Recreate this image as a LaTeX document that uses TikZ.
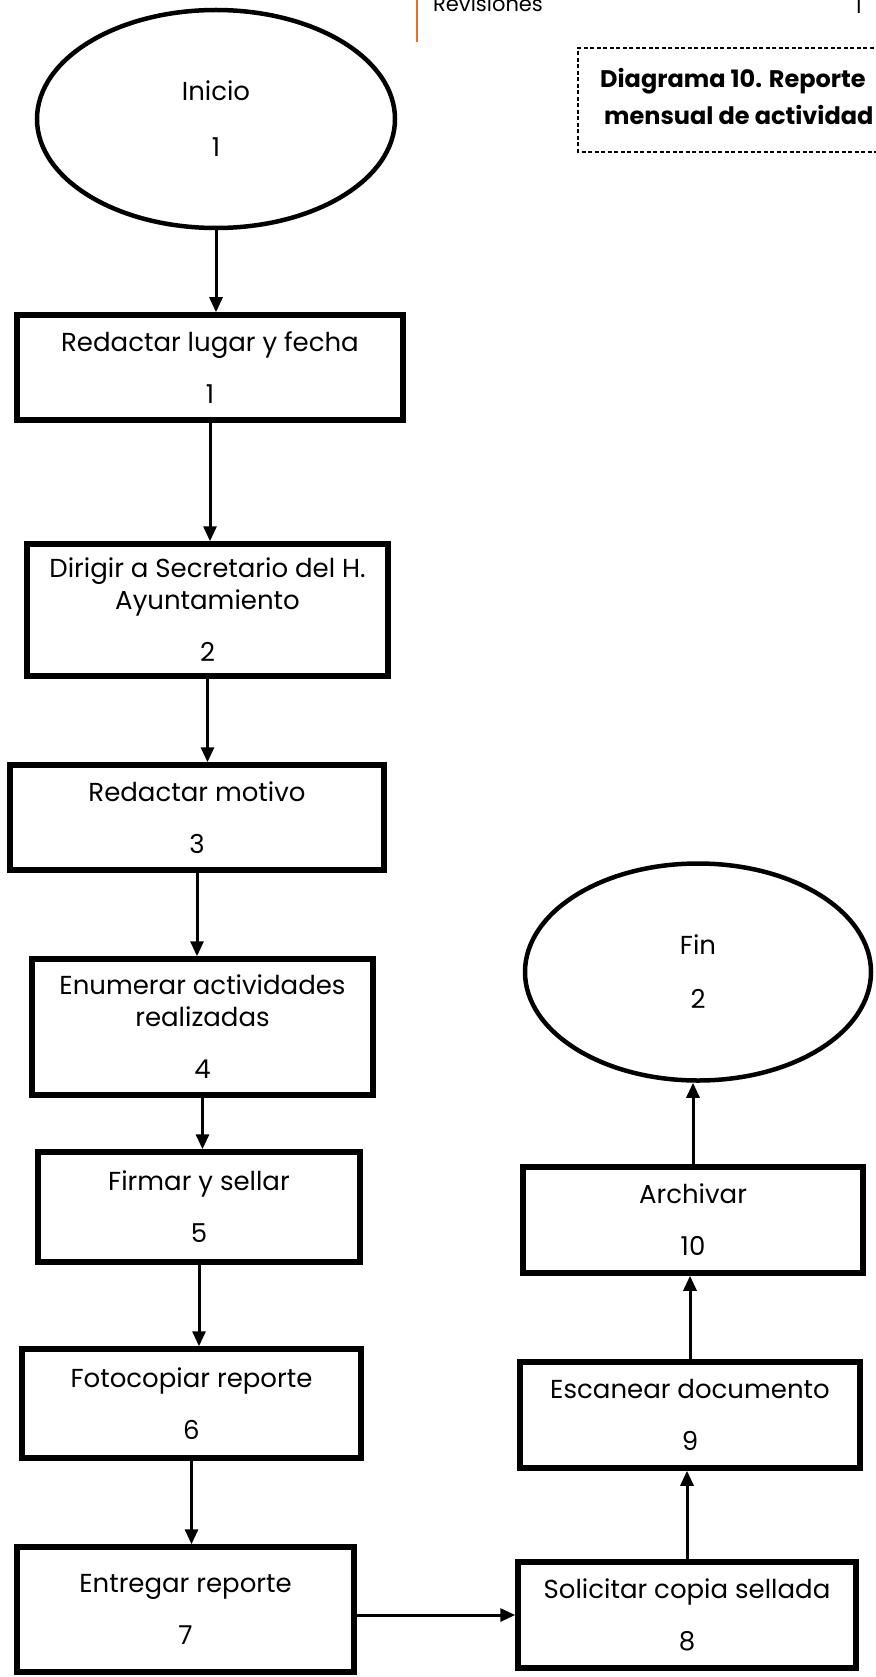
\documentclass[tikz,border=0pt]{standalone}
\usepackage{fontspec}
\setmainfont{Poppins}
\usetikzlibrary{shapes.geometric,arrows.meta}

\definecolor{naranja}{RGB}{232,110,40}
\tikzstyle{paso}=[draw,line width=5.5pt,rectangle,align=center,inner sep=0pt,font=\fontsize{26}{32}\selectfont]
\tikzstyle{terminal}=[draw,line width=4.5pt,ellipse,align=center,inner sep=0pt,font=\fontsize{26}{32}\selectfont]
\tikzstyle{flecha}=[draw,line width=3pt,-{Triangle[length=15pt,width=13pt]}]
\tikzstyle{titulo}=[font=\fontsize{24}{37}\selectfont\bfseries,anchor=base west,inner sep=0pt]
\tikzstyle{cabecera}=[font=\fontsize{21}{24}\selectfont,anchor=base west,inner sep=0pt]

\begin{document}
\begin{tikzpicture}[x=1pt,y=-1pt]
    \useasboundingbox (0,0) rectangle (875,1677);
    % Header of the page and the title box
    \draw[naranja,line width=2.5pt] (417,0) -- (417,42);
    \node[cabecera] (rev) at (433,12) {Revisiones};
    \node[cabecera] (pag) at (855,14) {1};
    \draw[dash pattern=on 4pt off 2.5pt,line width=1.5pt] (880,48) -- (578,48) -- (578,152) -- (880,152);
    \node[titulo] (tit1) at (600,88) {Diagrama 10. Reporte};
    \node[titulo] (tit2) at (604,125) {mensual de actividad};
    % Start and end of the diagram
    \node[terminal,minimum width=358,minimum height=218] (inicio) at (216,119) {Inicio\\[24pt]1};
    \node[terminal,minimum width=346,minimum height=217] (fin) at (698,972) {Fin\\[22pt]2};
    % Then the steps
    \foreach \pos/\name/\w/\h/\txt in {{(210,367.5)/b1/386/105/{Redactar lugar y fecha\\[20pt]1}},
        {(207.5,610)/b2/361/132/{Dirigir a Secretario del H.\\Ayuntamiento\\[20pt]2}},
        {(197,817.5)/b3/374/105/{Redactar motivo\\[20pt]3}},
        {(202.5,1027)/b4/341/136/{Enumerar actividades\\realizadas\\[20pt]4}},
        {(199,1207)/b5/322/110/{Firmar y sellar\\[20pt]5}},
        {(191.5,1403.5)/b6/339/109/{Fotocopiar reporte\\[20pt]6}},
        {(185.5,1609.5)/b7/337/125/{Entregar reporte\\[20pt]7}},
        {(687,1615)/b8/338/106/{Solicitar copia sellada\\[20pt]8}},
        {(690,1415)/b9/340/106/{Escanear documento\\[20pt]9}},
        {(693,1220)/b10/340/106/{Archivar\\[20pt]10}}}
        \node[paso,minimum width=\w,minimum height=\h] (\name) at \pos {\txt};
    % Connect the steps with arrows
    \foreach \source/\dest in {inicio/b1,b1/b2,b2/b3,b3/b4,b4/b5,b5/b6,b6/b7}
        \path[flecha] (\source.south) -- (\source.south |- \dest.north);
    \foreach \source/\dest in {b8/b9,b9/b10,b10/fin}
        \path[flecha] (\source.north) -- (\source.north |- \dest.south);
    \path[flecha] (b7.east |- b8.west) -- (b8.west);
\end{tikzpicture}
\end{document}
